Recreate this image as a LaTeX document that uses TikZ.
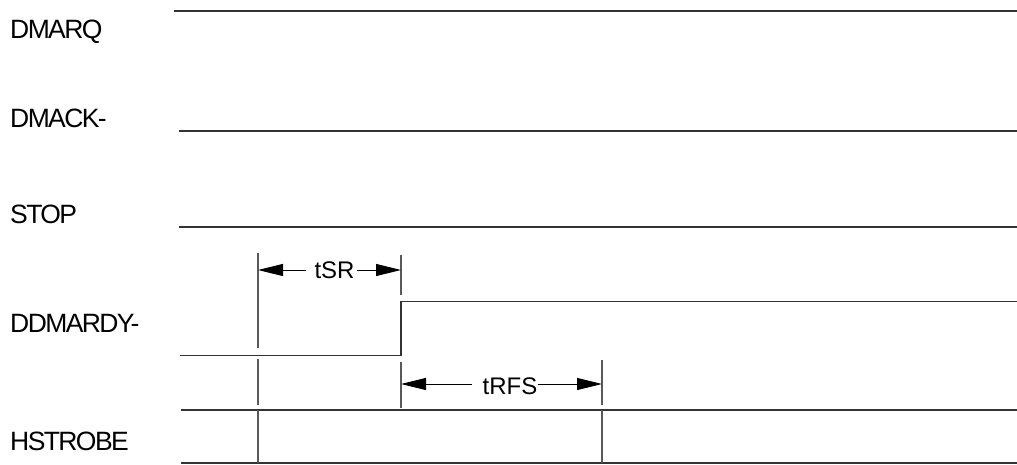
\documentclass[tikz,border=0pt]{standalone}
\usepackage{fontspec}
\setmainfont{Liberation Sans}
\usetikzlibrary{arrows.meta}
\begin{document}
\begin{tikzpicture}[x=1pt,y=-1pt,
  sig/.style={line width=1.1pt, draw=black!80},
  tickline/.style={line width=1.1pt, draw=black!65},
  lbl/.style={anchor=base west, inner sep=0pt, font=\fontsize{26.5}{30}\selectfont\addfontfeature{LetterSpace=-6}},
  tlbl/.style={anchor=base, inner sep=0pt, font=\fontsize{24}{28}\selectfont},
  dimarrow/.style={line width=1pt, -{Triangle[length=25pt,width=12pt]}}]
\useasboundingbox (0,0) rectangle (1017,464);
% signal labels
\node[lbl] (dmarq) at (10,38.5) {DMARQ};
\node[lbl] (dmack) at (10,127) {DMACK-};
\node[lbl] (stop) at (10,223) {STOP};
\node[lbl] (ddmardy) at (10,332) {DDMARDY-};
\node[lbl] (hstrobe) at (10,450) {HSTROBE};
% signal lines
\coordinate (q0) at (174,11); \coordinate (q1) at (1017,11);
\coordinate (k0) at (179,131); \coordinate (k1) at (1017,131);
\coordinate (s0) at (179,227); \coordinate (s1) at (1017,227);
\coordinate (r0) at (180,355.5); \coordinate (r1) at (401,355.5);
\coordinate (r2) at (401,301.5); \coordinate (r3) at (1017,301.5);
\coordinate (h0) at (181,410); \coordinate (h1) at (1017,410);
\coordinate (b0) at (181,463); \coordinate (b1) at (1017,463);
\draw[sig] (q0) -- (q1);
\draw[sig] (k0) -- (k1);
\draw[sig] (s0) -- (s1);
\draw[sig] (r0) -- (r1) -- (r2) -- (r3);
\draw[sig] (h0) -- (h1);
\draw[sig] (b0) -- (b1);
% timing ticks
\coordinate (t1a) at (258,253); \coordinate (t1b) at (258,348);
\coordinate (t1c) at (258,359); \coordinate (t1d) at (258,405);
\coordinate (t1e) at (258,410); \coordinate (t1f) at (258,463);
\coordinate (t2a) at (401,255); \coordinate (t2b) at (401,295);
\coordinate (t2c) at (401,362); \coordinate (t2d) at (401,408);
\coordinate (t3c) at (602,360); \coordinate (t3d) at (602,405);
\coordinate (t3e) at (602,410); \coordinate (t3f) at (602,463);
\draw[tickline] (t1a) -- (t1b);
\draw[tickline] (t1c) -- (t1d);
\draw[tickline] (t1e) -- (t1f);
\draw[tickline] (t2a) -- (t2b);
\draw[tickline] (t2c) -- (t2d);
\draw[tickline] (t3c) -- (t3d);
\draw[tickline] (t3e) -- (t3f);
% tSR
\node[tlbl] (tsr) at (334.5,278) {tSR};
\coordinate (tsrL) at (258,270); \coordinate (tsrR) at (401,270);
\draw[dimarrow] ([xshift=-8pt]tsrL -| tsr.west) -- (tsrL);
\draw[dimarrow] ([xshift=2pt]tsrR -| tsr.east) -- (tsrR);
% tRFS
\node[tlbl] (trfs) at (510,394) {tRFS};
\coordinate (trfsL) at (401,384); \coordinate (trfsR) at (602,384);
\draw[dimarrow] ([xshift=-10pt]trfsL -| trfs.west) -- (trfsL);
\draw[dimarrow] (trfsR -| trfs.east) -- (trfsR);
\end{tikzpicture}
\end{document}
